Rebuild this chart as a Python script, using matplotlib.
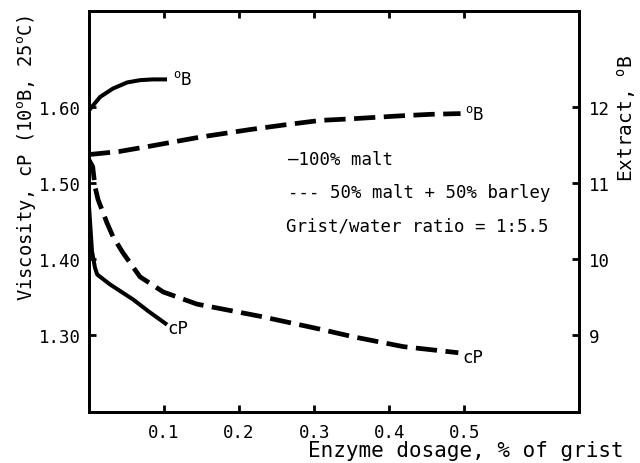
import matplotlib
matplotlib.use("Agg")
import matplotlib.pyplot as plt

plt.rcParams['font.family'] = ['DejaVu Sans Mono']
plt.rcParams['mathtext.fontset'] = 'custom'
plt.rcParams['mathtext.rm'] = 'DejaVu Sans Mono'

# 100% malt
malt_ob_x = [0.0, 0.004, 0.015, 0.032, 0.051, 0.068, 0.085, 0.104]
malt_ob_y = [11.95, 12.00, 12.13, 12.24, 12.32, 12.35, 12.36, 12.36]
malt_cp_x = [0.0, 0.004, 0.008, 0.011, 0.028, 0.059, 0.080, 0.104]
malt_cp_y = [1.47, 1.41, 1.388, 1.379, 1.366, 1.346, 1.330, 1.313]

# 50% malt + 50% barley
mix_ob_x = [0.0, 0.04, 0.081, 0.148, 0.215, 0.26, 0.308, 0.348, 0.415, 0.455, 0.495]
mix_ob_y = [11.37, 11.41, 11.48, 11.60, 11.70, 11.76, 11.82, 11.84, 11.88, 11.90, 11.91]
mix_cp_x = [0.0, 0.005, 0.008, 0.012, 0.024, 0.032, 0.045, 0.068, 0.099, 0.144,
            0.228, 0.308, 0.352, 0.419, 0.492]
mix_cp_y = [1.53, 1.521, 1.495, 1.478, 1.447, 1.429, 1.408, 1.376, 1.356, 1.340,
            1.324, 1.307, 1.297, 1.284, 1.276]

x_ticks = [0.1, 0.2, 0.3, 0.4, 0.5]
visc_ticks = [1.30, 1.40, 1.50, 1.60]
extract_ticks = [9, 10, 11, 12]

OB = '$^\\mathregular{o}$B'

fig = plt.figure(figsize=(6.4, 4.64), dpi=100)
ax = fig.add_axes([0.139, 0.110, 0.766, 0.864])
ax2 = ax.twinx()

ax.set_xlim(0, 0.653)
ax.set_ylim(1.198, 1.726)
ax2.set_ylim(7.98, 13.26)

lw_s = 2.9
lw_d = 3.4
dash = (4.5, 1.8)

ax.plot(malt_cp_x, malt_cp_y, color='black', lw=lw_s, solid_capstyle='butt')
ax.plot(mix_cp_x, mix_cp_y, color='black', lw=lw_d, dashes=dash)
ax2.plot(malt_ob_x, malt_ob_y, color='black', lw=lw_s, solid_capstyle='butt')
ax2.plot(mix_ob_x, mix_ob_y, color='black', lw=lw_d, dashes=dash)

fs = 12.5
ax2.text(malt_ob_x[-1] + 0.008, malt_ob_y[-1], OB, fontsize=fs, va='center', ha='left')
ax2.text(mix_ob_x[-1] + 0.006, mix_ob_y[-1], OB, fontsize=fs, va='center', ha='left')
ax.text(malt_cp_x[-1] + 0.0, malt_cp_y[-1] - 0.004, 'cP', fontsize=fs, va='center', ha='left')
ax.text(mix_cp_x[-1] + 0.006, mix_cp_y[-1] - 0.006, 'cP', fontsize=fs, va='center', ha='left')

# key text
ax.text(0.405, 0.631, '\u2014100% malt', transform=ax.transAxes, fontsize=fs, va='center')
ax.text(0.405, 0.549, '--- 50% malt + 50% barley', transform=ax.transAxes, fontsize=fs, va='center')
ax.text(0.402, 0.466, 'Grist/water ratio = 1:5.5', transform=ax.transAxes, fontsize=fs, va='center')

for a in (ax, ax2):
    for s in a.spines.values():
        s.set_linewidth(2.0)

ax.set_xticks(x_ticks)
ax.set_xticklabels(['%.1f' % v for v in x_ticks], fontsize=fs)
ax.set_yticks(visc_ticks)
ax.set_yticklabels(['%.2f' % v for v in visc_ticks], fontsize=fs)
ax.tick_params(axis='both', direction='in', length=5, width=2, pad=6)
ax.tick_params(axis='x', top=True, pad=8)
ax2.set_yticks(extract_ticks)
ax2.set_yticklabels([str(v) for v in extract_ticks], fontsize=fs)
ax2.tick_params(axis='y', direction='in', length=5, width=2, pad=7)

fig.text(466 / 640, 1 - 451 / 464, 'Enzyme dosage, % of grist', fontsize=15,
         ha='center', va='center')
fig.text(27 / 640, 1 - 158 / 464,
         'Viscosity, cP (10$^\\mathregular{o}$B, 25$^\\mathregular{o}$C)',
         fontsize=13.5, rotation=90, ha='center', va='center')
fig.text(626 / 640, 1 - 118 / 464, 'Extract, ' + OB, fontsize=14,
         rotation=90, ha='center', va='center')

fig.savefig('out.png', dpi=100)
